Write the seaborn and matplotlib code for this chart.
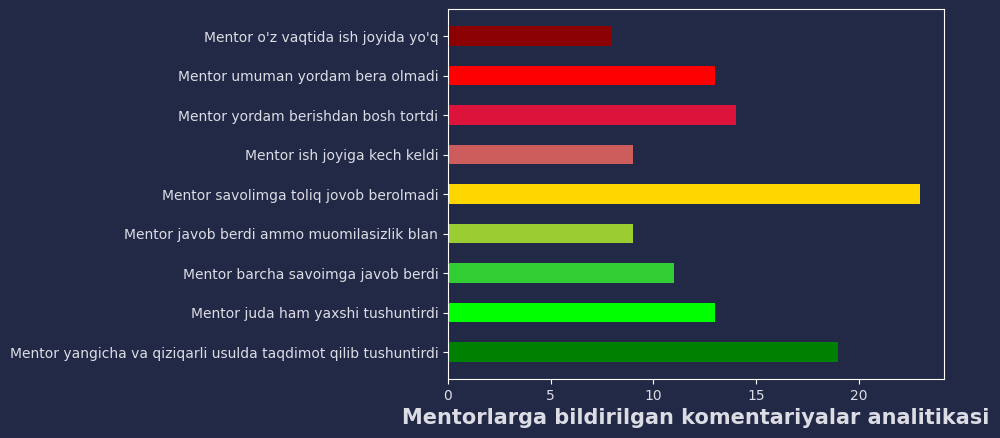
import matplotlib
matplotlib.use("Agg")
import matplotlib.pyplot as plt
import pandas as pd
import seaborn as sns

# Comment categories (top to bottom) and their counts
komentariya = [
    "Mentor o'z vaqtida ish joyida yo'q",
    "Mentor umuman yordam bera olmadi",
    "Mentor yordam berishdan bosh tortdi",
    "Mentor ish joyiga kech keldi",
    "Mentor savolimga toliq jovob berolmadi",
    "Mentor javob berdi ammo muomilasizlik blan",
    "Mentor barcha savoimga javob berdi",
    "Mentor juda ham yaxshi tushuntirdi",
    "Mentor yangicha va qiziqarli usulda taqdimot qilib tushuntirdi",
]
soni = [8, 13, 14, 9, 23, 9, 11, 13, 19]
ranglar = ["darkred", "red", "crimson", "indianred", "gold",
           "yellowgreen", "limegreen", "lime", "green"]

bg = "#222946"
txt = "#dcdce4"

df = pd.DataFrame({"komentariya": komentariya, "soni": soni})

fig, ax = plt.subplots(figsize=(10, 4.38), dpi=100)
fig.patch.set_facecolor(bg)
ax.set_facecolor(bg)

sns.barplot(data=df, x="soni", y="komentariya", hue="komentariya",
            palette=ranglar, width=0.5, saturation=1, legend=False, ax=ax)

ax.set_ylim(8.68, -0.68)
ax.set_xlim(0, max(soni) * 1.05)
ax.set_xticks([0, 5, 10, 15, 20])
ax.set_ylabel("")
ax.set_xlabel("Mentorlarga bildirilgan komentariyalar analitikasi",
              fontsize=15, fontweight="bold", color=txt)

for s in ax.spines.values():
    s.set_color("white")
ax.tick_params(colors="white", labelcolor=txt, labelsize=10)

plt.subplots_adjust(left=0.448, right=0.944, top=0.979, bottom=0.135)
plt.savefig("out.png", facecolor=bg)
